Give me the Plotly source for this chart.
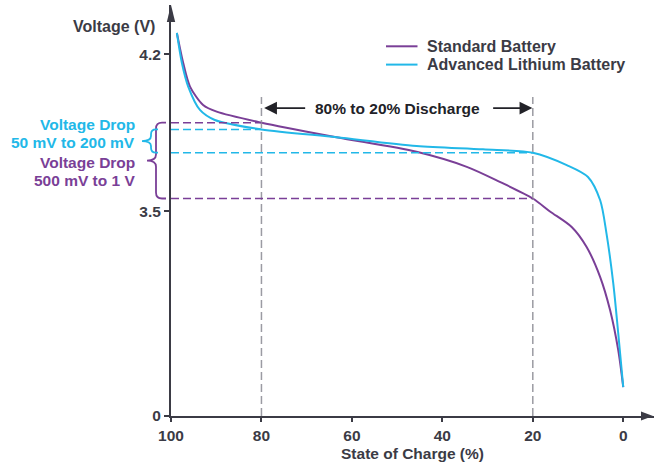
import plotly.graph_objects as go

# ---------------- data ----------------
soc_std = [98.7, 97.3, 95.8, 92.9, 89.9, 79.95, 63.4, 45.7, 34.6, 27.3, 20.0, 16.2, 11.4, 8.1, 5.1, 2.9, 1.1, 0.0]
v_std = [4.295, 4.161, 4.056, 3.974, 3.944, 3.895, 3.830, 3.765, 3.698, 3.631, 3.557, 3.497, 3.231, 2.889, 2.375, 1.806, 1.121, 0.493]

soc_adv = [98.7, 97.6, 96.2, 93.6, 90.3, 80.0, 63.4, 45.7, 31.0, 20.0, 12.5, 7.8, 5.1, 3.7, 2.2, 1.1, 0.0]
v_adv = [4.295, 4.162, 4.056, 3.952, 3.907, 3.865, 3.830, 3.791, 3.776, 3.761, 3.706, 3.653, 3.549, 3.118, 2.263, 1.407, 0.493]

series_names = ["Standard Battery", "Advanced Lithium Battery"]
x_ticks = [100, 80, 60, 40, 20, 0]
y_ticks_v = [0, 3.5, 4.2]
y_tick_text = ["0", "3.5", "4.2"]

window = [80, 20]                       # 80% to 20% discharge
std_levels = [3.895, 3.557]             # standard battery voltage at 80% / 20%
adv_levels = [3.865, 3.761]             # advanced battery voltage at 80% / 20%
window_top_v = 4.01
label_v = 3.96

# ---------------- styling ----------------
PURPLE = "#7a3f97"
CYAN = "#22b8e8"
AX = "#3b3b45"
GRAY = "#9b9ba3"
FONT = "Liberation Sans, Arial, sans-serif"

# broken (schematic) voltage scale: 0-3.5 V compressed, above 3.5 V expanded
K = 3.834
U_TOP = 7.026
X_END = -6.8


def u(v):
    return v if v <= 3.5 else 3.5 + (v - 3.5) * K


# pixel helpers for decorations outside the data area
L, T, W, H = 171, 5, 483, 411


def pxx(px):
    return (px - L) / W


def pxy(py):
    return (T + H - py) / H


def yp(v):
    return u(v) / U_TOP


colors = [PURPLE, CYAN]
fig = go.Figure()
fig.add_trace(go.Scatter(x=soc_std, y=[u(v) for v in v_std], mode="lines", showlegend=False,
                         name=series_names[0], line=dict(color=PURPLE, width=2, shape="spline", smoothing=0.8)))
fig.add_trace(go.Scatter(x=soc_adv, y=[u(v) for v in v_adv], mode="lines", showlegend=False,
                         name=series_names[1], line=dict(color=CYAN, width=2, shape="spline", smoothing=0.8)))

shapes = []
# vertical window lines
for w in window:
    shapes.append(dict(type="line", xref="x", yref="y", x0=w, x1=w, y0=0, y1=u(window_top_v),
                       line=dict(color=GRAY, width=1.5, dash="8px,4px")))
# horizontal level lines
for lv, w in zip(std_levels, window):
    shapes.append(dict(type="line", xref="x", yref="y", x0=100, x1=w, y0=u(lv), y1=u(lv),
                       line=dict(color=PURPLE, width=1.5, dash="8px,4px")))
for lv, w in zip(adv_levels, window):
    shapes.append(dict(type="line", xref="x", yref="y", x0=100, x1=w, y0=u(lv), y1=u(lv),
                       line=dict(color=CYAN, width=1.5, dash="8px,4px")))


def brace(v_top, v_bot, xv, xt, xe, r, color):
    yt, yb = yp(v_top), yp(v_bot)
    ym = (yt + yb) / 2
    ry = r / H
    rx = r / W
    p = (f"M {pxx(xe)},{yt} L {pxx(xv) + rx},{yt} Q {pxx(xv)},{yt} {pxx(xv)},{yt - ry} "
         f"L {pxx(xv)},{ym + ry} Q {pxx(xv)},{ym} {pxx(xt)},{ym} "
         f"Q {pxx(xv)},{ym} {pxx(xv)},{ym - ry} L {pxx(xv)},{yb + ry} "
         f"Q {pxx(xv)},{yb} {pxx(xv) + rx},{yb} L {pxx(xe)},{yb}")
    return dict(type="path", xref="paper", yref="paper", path=p, line=dict(color=color, width=1.8))


shapes.append(brace(std_levels[0], std_levels[1], 156, 147, 166, 6, PURPLE))
shapes.append(brace(adv_levels[0], adv_levels[1], 151, 142, 158, 5, CYAN))

# axis arrowheads
shapes.append(dict(type="path", xref="paper", yref="paper", fillcolor=AX, line=dict(width=0),
                   path=f"M {pxx(171)},{pxy(5)} L {pxx(166.8)},{pxy(22)} L {pxx(175.2)},{pxy(22)} Z"))
shapes.append(dict(type="path", xref="paper", yref="paper", fillcolor=AX, line=dict(width=0),
                   path=f"M {pxx(653)},{pxy(416)} L {pxx(641)},{pxy(411.5)} L {pxx(641)},{pxy(420.5)} Z"))

ann = []


def txt(text, px, py, color, size=15.5, anchor="right"):
    ann.append(dict(text=text, x=pxx(px), y=pxy(py), xref="paper", yref="paper", showarrow=False,
                    xanchor=anchor, yanchor="middle",
                    font=dict(family=FONT, size=size, color=color, weight="bold")))


# manual legend
for i, (name, c) in enumerate(zip(series_names, colors)):
    ly = 46.3 + i * 18.3
    shapes.append(dict(type="line", xref="paper", yref="paper", x0=pxx(386), x1=pxx(417.5),
                       y0=pxy(ly), y1=pxy(ly), line=dict(color=c, width=2)))
    txt(name, 425, ly, AX, 16, anchor="left")

txt("Voltage (V)", 157, 26.5, AX, 16)
txt("Voltage Drop", 137, 124.5, CYAN)
txt("50 mV to 200 mV", 137, 142.7, CYAN)
txt("Voltage Drop", 137, 162.3, PURPLE)
txt("500 mV to 1 V", 137, 180.3, PURPLE)

mid = (window[0] + window[1]) / 2
ann.append(dict(text="80% to 20% Discharge", x=mid, y=u(label_v), xref="x", yref="y", showarrow=False,
                font=dict(family=FONT, size=15.5, color="#222228", weight="bold")))
ann.append(dict(text="", x=window[0] - 0.6, y=u(label_v), ax=70.0, ay=u(label_v), xref="x", yref="y",
                axref="x", ayref="y", showarrow=True, arrowhead=2, arrowsize=1.6, arrowwidth=1.6,
                arrowcolor="#222228", standoff=0))
ann.append(dict(text="", x=window[1] + 0.1, y=u(label_v), ax=29.1, ay=u(label_v), xref="x", yref="y",
                axref="x", ayref="y", showarrow=True, arrowhead=2, arrowsize=1.6, arrowwidth=1.6,
                arrowcolor="#222228", standoff=0))

tickfont = dict(family=FONT, size=15.5, color=AX, weight="bold")
fig.update_layout(
    width=654, height=466,
    margin=dict(l=L, r=0, t=T, b=50),
    paper_bgcolor="white", plot_bgcolor="white",
    showlegend=False,
    hovermode=False,
    xaxis=dict(range=[100, X_END], tickvals=x_ticks, ticks="outside", ticklen=4, tickwidth=1.5,
               tickcolor=AX, showline=True, linewidth=2, linecolor=AX, showgrid=False, zeroline=False,
               tickfont=tickfont,
               title=dict(text="State of Charge (%)", standoff=6,
                          font=dict(family=FONT, size=15.5, color=AX, weight="bold"))),
    yaxis=dict(range=[0, U_TOP], tickvals=[u(v) for v in y_ticks_v], ticktext=y_tick_text,
               ticks="outside", ticklen=5, tickwidth=1.5, tickcolor=AX, showline=True, linewidth=2,
               linecolor=AX, showgrid=False, zeroline=False, tickfont=tickfont),
    shapes=shapes,
    annotations=ann,
)

fig.write_html("out.html", config={"displayModeBar": False},
               post_script="document.body.style.margin='0px';")
